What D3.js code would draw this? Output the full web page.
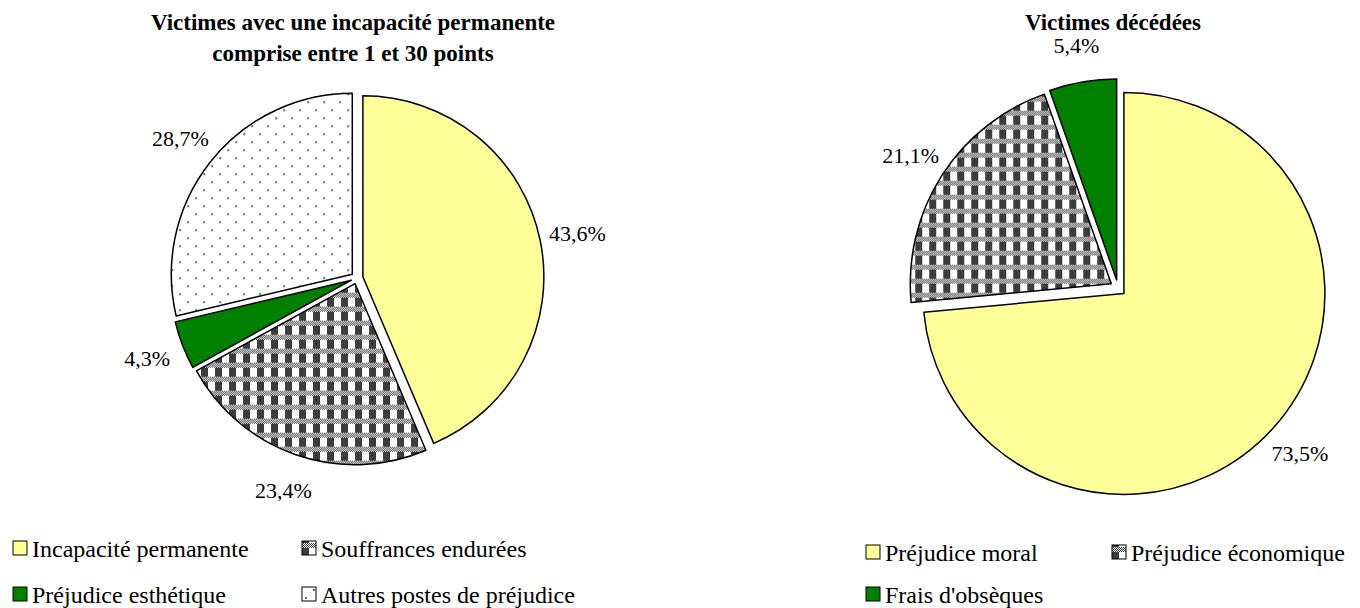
<!DOCTYPE html>
<html>
<head>
<meta charset="utf-8">
<script src="https://cdn.jsdelivr.net/npm/d3@7"></script>
<style>
  body { margin: 0; background: #fff; }
  svg text { font-family: "Liberation Serif", "Times New Roman", serif; fill: #000; }
</style>
</head>
<body>
<div id="chart"></div>
<script>
// ---------- data ----------
var leftTitle = ["Victimes avec une incapacité permanente", "comprise entre 1 et 30 points"];
var leftCategories = ["Incapacité permanente", "Souffrances endurées", "Préjudice esthétique", "Autres postes de préjudice"];
var leftValues = [43.6, 23.4, 4.3, 28.7];
var leftFills = ["#FFFF99", "url(#plaid)", "#008000", "url(#dots)"];

var rightTitle = ["Victimes décédées"];
var rightCategories = ["Préjudice moral", "Préjudice économique", "Frais d'obsèques"];
var rightValues = [73.5, 21.1, 5.4];
var rightFills = ["#FFFF99", "url(#plaid)", "#008000"];

// ---------- canvas ----------
var W = 1360, H = 608;
var svg = d3.select('#chart').append('svg')
  .attr('width', W).attr('height', H);

var defs = svg.append('defs');

// plaid: dark/white blocks alternating with rows of fine dither
var plaid = defs.append('pattern').attr('id', 'plaid')
  .attr('patternUnits', 'userSpaceOnUse').attr('width', 14).attr('height', 14);
plaid.append('rect').attr('width', 14).attr('height', 14).attr('fill', '#fff');
plaid.append('rect').attr('x', 0).attr('y', 0).attr('width', 7).attr('height', 9).attr('fill', '#3c3c3c');
for (var yy = 9; yy < 14; yy++) {
  for (var xx = 0; xx < 14; xx++) {
    if ((xx + yy) % 2 === 0) plaid.append('rect').attr('x', xx).attr('y', yy).attr('width', 1).attr('height', 1).attr('fill', '#3c3c3c');
  }
}

// dots: staggered grey dots
var dots = defs.append('pattern').attr('id', 'dots')
  .attr('patternUnits', 'userSpaceOnUse').attr('width', 16).attr('height', 16);
dots.append('rect').attr('width', 16).attr('height', 16).attr('fill', '#fff');
dots.append('rect').attr('x', 3).attr('y', 3).attr('width', 1.8).attr('height', 1.8).attr('fill', '#444');
dots.append('rect').attr('x', 11).attr('y', 11).attr('width', 1.8).attr('height', 1.8).attr('fill', '#444');

// ---------- pies ----------
function drawPie(values, fills, cx, cy, r, explode, labelR) {
  var pie = d3.pie().sort(null).value(function(d){ return d; });
  var arc = d3.arc().innerRadius(0).outerRadius(r);
  var labelArc = d3.arc().innerRadius(labelR).outerRadius(labelR);
  var g = svg.append('g').attr('transform', 'translate(' + cx + ',' + cy + ')');
  var arcs = pie(values);

  g.selectAll('path').data(arcs).enter().append('path')
    .attr('d', arc)
    .attr('transform', function(d){
      var a = (d.startAngle + d.endAngle) / 2;
      return 'translate(' + (explode * Math.sin(a)) + ',' + (-explode * Math.cos(a)) + ')';
    })
    .attr('fill', function(d, i){ return fills[i]; })
    .attr('stroke', '#000').attr('stroke-width', 1.5)
    .attr('stroke-linejoin', 'round');

  g.selectAll('text.lbl').data(arcs).enter().append('text')
    .attr('class', 'lbl')
    .attr('x', function(d){ return labelArc.centroid(d)[0]; })
    .attr('y', function(d){ return labelArc.centroid(d)[1]; })
    .attr('text-anchor', 'middle')
    .attr('dominant-baseline', 'central')
    .attr('font-size', 22)
    .text(function(d){ return d.data.toFixed(1).replace('.', ',') + '%'; });
}

drawPie(leftValues, leftFills, 357, 278, 181, 6, 225);
drawPie(rightValues, rightFills, 1118, 288, 201, 8, 246);

// ---------- titles ----------
function drawTitle(lines, x, y) {
  svg.append('text').attr('x', x).attr('y', y)
    .attr('text-anchor', 'middle').attr('font-weight', 'bold').attr('font-size', 23)
    .selectAll('tspan').data(lines).enter().append('tspan')
    .attr('x', x).attr('dy', function(d, i){ return i === 0 ? 0 : 31; })
    .text(function(d){ return d; });
}
drawTitle(leftTitle, 353, 30);
drawTitle(rightTitle, 1113, 30);

// ---------- legends ----------
function drawLegend(cats, fills, x0, colW, ys) {
  var items = svg.append('g').selectAll('g').data(cats).enter().append('g')
    .attr('transform', function(d, i){
      return 'translate(' + (x0 + (i % 2) * colW) + ',' + ys[Math.floor(i / 2)] + ')';
    });
  items.append('rect')
    .attr('x', 0).attr('y', -7).attr('width', 14).attr('height', 14)
    .attr('fill', function(d, i){ return fills[i]; })
    .attr('stroke', '#000').attr('stroke-width', 1);
  items.append('text')
    .attr('x', 19).attr('y', 1)
    .attr('dominant-baseline', 'central')
    .attr('font-size', 24)
    .text(function(d){ return d; });
}
drawLegend(leftCategories, leftFills, 13, 289, [548, 594]);
drawLegend(rightCategories, rightFills, 866, 246, [552, 594]);
</script>
</body>
</html>
